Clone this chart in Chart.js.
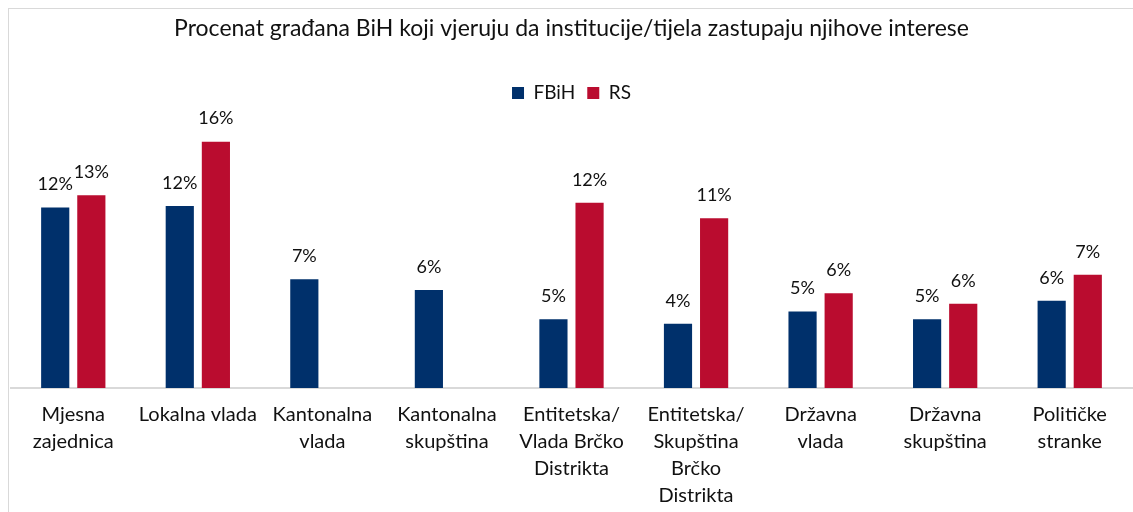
<!DOCTYPE html>
<html>
<head>
<meta charset="utf-8">
<script src="https://cdn.jsdelivr.net/npm/chart.js@4"></script>
<style>
  html, body { margin: 0; padding: 0; background: #fff; overflow: hidden; }
  #frame { position: absolute; left: 8px; top: 8px; width: 1140px; height: 520px; border: 1px solid #d9d9d9; }
  #wrap { position: absolute; left: 0; top: 0; width: 1133px; height: 512px; }
</style>
</head>
<body>
<div id="frame"></div>
<div id="wrap"><canvas id="grafik"></canvas></div>
<script>
const kategorije = [
  ['Mjesna', 'zajednica'],
  'Lokalna vlada',
  ['Kantonalna', 'vlada'],
  ['Kantonalna', 'skupština'],
  ['Entitetska/', 'Vlada Brčko', 'Distrikta'],
  ['Entitetska/', 'Skupština', 'Brčko', 'Distrikta'],
  ['Državna', 'vlada'],
  ['Državna', 'skupština'],
  ['Političke', 'stranke']
]
const fbih = [11.8, 11.9, 7.1, 6.4, 4.5, 4.2, 5.0, 4.5, 5.7]
const rs = [12.6, 16.1, null, null, 12.1, 11.1, 6.2, 5.5, 7.4]

const font = 'Lato, "Open Sans", sans-serif'

// natpisi iznad stubaca
const natpisi = {
  id: 'natpisi',
  afterDatasetsDraw(chart) {
    const ctx = chart.ctx
    ctx.save()
    ctx.font = '18px ' + font
    ctx.fillStyle = '#111'
    ctx.textAlign = 'center'
    ctx.textBaseline = 'bottom'
    chart.data.datasets.forEach((ds, i) => {
      chart.getDatasetMeta(i).data.forEach((bar, j) => {
        const v = ds.data[j]
        if (v == null) return
        ctx.fillText(Math.round(v) + '%', bar.x, bar.y - 14)
      })
    })
    ctx.restore()
  }
}

new Chart(document.getElementById('grafik'), {
  type: 'bar',
  data: {
    labels: kategorije,
    datasets: [
      { label: 'FBiH', data: fbih, backgroundColor: '#00306b' },
      { label: 'RS', data: rs, backgroundColor: '#ba0c2f' }
    ]
  },
  options: {
    responsive: true,
    maintainAspectRatio: false,
    animation: false,
    datasets: { bar: { categoryPercentage: 0.58, barPercentage: 0.78 } },
    layout: { padding: { left: 11, right: 1, top: 0, bottom: -10 } },
    plugins: {
      title: {
        display: true,
        text: 'Procenat građana BiH koji vjeruju da institucije/tijela zastupaju njihove interese',
        color: '#111',
        font: { family: font, size: 23, weight: 'normal' },
        padding: { top: 15, bottom: 29 }
      },
      legend: {
        position: 'top',
        labels: {
          color: '#111',
          font: { family: font, size: 19 },
          boxWidth: 12,
          boxHeight: 12,
          padding: 12
        }
      },
      tooltip: { enabled: false }
    },
    scales: {
      x: {
        grid: { display: false, drawTicks: false },
        border: { color: '#d9d9d9', width: 2 },
        ticks: {
          color: '#111',
          font: { family: font, size: 20, lineHeight: 1.35 },
          padding: 13,
          maxRotation: 0,
          minRotation: 0,
          autoSkip: false
        }
      },
      y: {
        display: false,
        min: 0,
        max: 18
      }
    }
  },
  plugins: [natpisi]
})
</script>
</body>
</html>
